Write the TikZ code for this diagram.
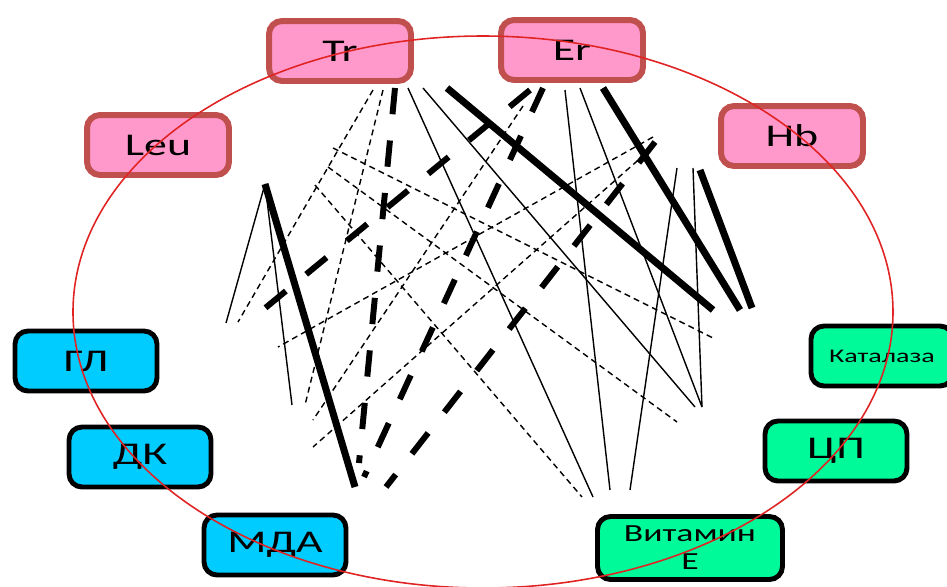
\documentclass[tikz,border=0pt]{standalone}
\usepackage{fontspec}
\setmainfont{Carlito}[FakeStretch=1.45]
\usepackage{tikz}
\usetikzlibrary{positioning}
\definecolor{boxpink}{HTML}{FF99CC}
\definecolor{boxred}{HTML}{C0504D}
\definecolor{boxblue}{HTML}{00CCFF}
\definecolor{boxgreen}{HTML}{00FA9A}
\definecolor{ringred}{HTML}{E02424}

\begin{document}
\begin{tikzpicture}[
    x=0.02cm, y=-0.02cm,
    box/.style={rectangle, rounded corners=2.6mm, minimum width=2.84cm, minimum height=1.2cm, inner sep=1pt, font=\fontsize{18}{20}\selectfont},
    pinkbox/.style={box, draw=boxred, fill=boxpink, line width=3.4pt},
    bluebox/.style={box, draw=black, fill=boxblue, line width=2.8pt},
    greenbox/.style={box, draw=black, fill=boxgreen, line width=2.8pt},
    strongpos/.style={line width=4pt},
    strongneg/.style={line width=3.4pt, dash pattern=on 15pt off 15pt},
    weakpos/.style={line width=0.8pt},
    weakneg/.style={line width=0.8pt, dash pattern=on 3.4pt off 2.4pt}
]
    \useasboundingbox (0,0) rectangle (947,586);

    % Blood cells
    \node[pinkbox] (leu) at (158,145) {Leu};
    \node[pinkbox] (tr) at (340,51) {Tr};
    \node[pinkbox] (er) at (572,50) {Er};
    \node[pinkbox] (hb) at (792,136) {Hb};

    % Oxidation
    \node[bluebox] (gl) at (86,361) {ГЛ};
    \node[bluebox] (dk) at (140,457) {ДК};
    \node[bluebox] (mda) at (275,545) {МДА};

    % Antioxidants
    \node[greenbox, font=\fontsize{11}{13}\selectfont] (kat) at (882,356) {Каталаза};
    \node[greenbox] (cp) at (836,451) {ЦП};
    \node[greenbox, minimum width=3.7cm, minimum height=1.26cm, align=center, font=\fontsize{14}{16}\selectfont] (vit) at (690,548) {Витамин\\Е};

    % Ring
    \draw[ringred, line width=0.9pt] (483,312) ellipse [x radius=410, y radius=276];

    % Line ends
    \coordinate (leu1) at (265,184); \coordinate (leu2) at (333,148); \coordinate (leu3) at (328,167); \coordinate (leu4) at (315,185);
    \coordinate (tr1) at (373,90); \coordinate (tr2) at (383,90); \coordinate (tr3) at (395,88); \coordinate (tr4) at (408,88); \coordinate (tr5) at (423,88); \coordinate (tr6) at (447,88);
    \coordinate (er1) at (530,90); \coordinate (er2) at (523,106); \coordinate (er3) at (543,88); \coordinate (er4) at (565,90); \coordinate (er5) at (580,88); \coordinate (er6) at (603,88);
    \coordinate (hb1) at (653,137); \coordinate (hb2) at (655,142); \coordinate (hb3) at (653,147); \coordinate (hb4) at (677,168); \coordinate (hb5) at (693,168); \coordinate (hb6) at (700,170);
    \coordinate (gl1) at (226,323); \coordinate (gl2) at (238,322); \coordinate (gl3) at (247,323); \coordinate (gl4) at (278,347);
    \coordinate (dk1) at (292,405); \coordinate (dk2) at (305,405); \coordinate (dk3) at (313,420); \coordinate (dk4) at (313,447);
    \coordinate (mda1) at (355,487); \coordinate (mda2) at (359,463); \coordinate (mda3) at (364,477); \coordinate (mda4) at (386,487);
    \coordinate (vit1) at (582,497); \coordinate (vit2) at (593,497); \coordinate (vit3) at (610,490); \coordinate (vit4) at (630,490);
    \coordinate (cp1) at (677,422); \coordinate (cp2) at (695,407); \coordinate (cp3) at (702,407);
    \coordinate (kat1) at (713,310); \coordinate (kat2) at (715,339); \coordinate (kat3) at (740,310); \coordinate (kat4) at (752,308);

    % Strong links
    \draw[strongpos] (leu1) -- (mda1); \draw[strongpos] (tr6) -- (kat1); \draw[strongpos] (er6) -- (kat3); \draw[strongpos] (hb6) -- (kat4);
    \draw[strongneg] (tr3) -- (mda2); \draw[strongneg] (er1) -- (gl3); \draw[strongneg] (er3) -- (mda3); \draw[strongneg] (hb2) -- (mda4);

    % Weak links
    \draw[weakpos] (leu1) -- (gl1); \draw[weakpos] (leu1) -- (dk1); \draw[weakpos] (tr4) -- (vit2); \draw[weakpos] (tr5) -- (cp2);
    \draw[weakpos] (er4) -- (vit3); \draw[weakpos] (er5) -- (cp3); \draw[weakpos] (hb4) -- (vit4); \draw[weakpos] (hb5) -- (cp3);
    \draw[weakneg] (leu2) -- (kat2); \draw[weakneg] (leu3) -- (cp1); \draw[weakneg] (leu4) -- (vit1); \draw[weakneg] (hb1) -- (gl4);
    \draw[weakneg] (hb3) -- (dk4); \draw[weakneg] (tr1) -- (gl2); \draw[weakneg] (tr2) -- (dk2); \draw[weakneg] (er2) -- (dk3);
\end{tikzpicture}
\end{document}
